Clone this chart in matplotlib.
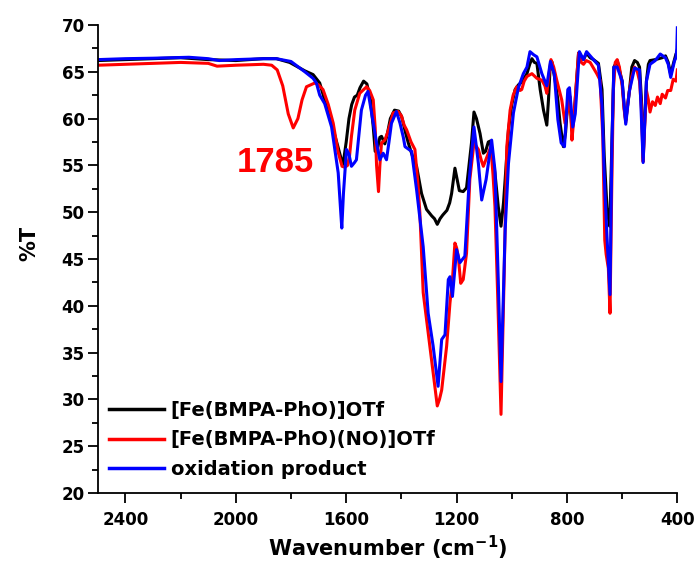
import matplotlib.pyplot as plt
from matplotlib.ticker import MultipleLocator

# IR spectra (wavenumber in cm-1, %T)
black_wn = [2500, 2400, 2300, 2200, 2100, 2000, 1900, 1853, 1805, 1750, 1720, 1696,
            1660, 1630, 1612, 1600, 1590, 1580, 1570, 1560, 1550, 1537, 1525, 1512,
            1502, 1495, 1485, 1478, 1472, 1460, 1450, 1440, 1425, 1410, 1399, 1385,
            1375, 1360, 1345, 1327, 1309, 1290, 1280, 1270, 1260, 1250, 1235, 1225,
            1218, 1206, 1198, 1190, 1176, 1164, 1155, 1146, 1137, 1128, 1115, 1103,
            1095, 1085, 1078, 1068, 1061, 1049, 1039, 1030, 1024, 1012, 1000, 988,
            976, 964, 945, 935, 927, 918, 909, 897, 885, 873, 867, 861, 855, 843,
            833, 825, 813, 805, 800, 792, 787, 782, 776, 770, 758, 750, 740, 729,
            716, 704, 686, 673, 665, 655, 651, 645, 637, 630, 618, 600, 592, 587,
            580, 574, 565, 555, 545, 537, 530, 524, 518, 512, 505, 499, 480, 467,
            455, 443, 433, 424, 415, 405, 400]
black_t = [66.2, 66.3, 66.4, 66.5, 66.3, 66.2, 66.4, 66.4, 66.0, 65.1, 64.7, 63.8,
           60.2, 57.0, 55.0, 57.5, 60.0, 61.5, 62.3, 62.5, 63.3, 64.0, 63.7, 62.0,
           59.1, 56.5, 57.0, 58.0, 58.1, 57.3, 58.5, 60.0, 60.9, 60.8, 60.2, 58.5,
           57.4, 56.0, 54.9, 52.0, 50.3, 49.6, 49.3, 48.7, 49.3, 49.7, 50.2, 51.0,
           52.0, 54.7, 53.5, 52.3, 52.2, 52.6, 55.0, 57.4, 60.7, 60.0, 58.4, 56.3,
           56.5, 57.5, 57.6, 55.5, 54.2, 50.6, 48.5, 51.0, 53.5, 58.8, 61.5, 63.1,
           63.6, 63.9, 64.8, 65.8, 66.4, 66.0, 65.9, 63.1, 60.9, 59.3, 62.0, 65.5,
           66.1, 64.1, 62.0, 59.5, 57.0, 58.5, 60.6, 63.1, 61.0, 58.8, 60.0, 62.0,
           67.0, 66.6, 66.3, 67.0, 66.5, 66.3, 65.9, 63.1, 56.0, 50.5, 49.6, 48.5,
           57.4, 65.5, 66.2, 64.0, 61.0, 59.8, 61.5, 62.9, 65.5, 66.2, 66.0, 65.5,
           62.0, 55.8, 60.0, 64.0, 65.8, 66.2, 66.3, 66.4, 66.5, 66.7, 66.0, 64.7,
           65.8, 66.9, 66.8]

red_wn = [2500, 2400, 2300, 2200, 2100, 2068, 2000, 1900, 1870, 1850, 1830, 1810,
          1792, 1775, 1760, 1744, 1714, 1700, 1684, 1665, 1647, 1630, 1615, 1605,
          1595, 1588, 1581, 1569, 1551, 1526, 1515, 1502, 1495, 1490, 1483, 1478,
          1472, 1460, 1450, 1440, 1430, 1412, 1400, 1390, 1381, 1365, 1351, 1340,
          1333, 1321, 1303, 1285, 1270, 1262, 1254, 1236, 1224, 1215, 1206, 1200,
          1194, 1185, 1176, 1164, 1152, 1137, 1121, 1110, 1103, 1089, 1076, 1068,
          1061, 1051, 1039, 1028, 1018, 1006, 995, 982, 970, 964, 955, 945, 927,
          909, 891, 880, 873, 866, 858, 848, 837, 819, 807, 797, 788, 782, 775,
          768, 758, 748, 740, 730, 716, 700, 692, 680, 670, 663, 658, 650, 644,
          638, 632, 625, 618, 610, 600, 593, 587, 580, 574, 565, 555, 545, 537,
          530, 524, 518, 512, 505, 499, 490, 480, 472, 462, 455, 443, 435, 424,
          415, 405, 400]
red_t = [65.7, 65.8, 65.9, 66.0, 65.9, 65.6, 65.7, 65.8, 65.7, 65.2, 63.5, 60.5,
         59.0, 60.0, 62.0, 63.4, 63.8, 63.6, 63.1, 61.5, 59.5, 56.5, 54.9, 54.8,
         55.0, 56.0, 58.1, 60.9, 62.7, 63.4, 63.0, 62.0, 59.0, 55.0, 52.2, 55.0,
         57.4, 57.7, 58.5, 59.5, 60.6, 60.75, 60.3, 59.3, 58.8, 57.5, 56.7, 53.0,
         49.9, 41.4, 37.1, 32.8, 29.3, 30.0, 31.0, 35.7, 40.3, 42.8, 46.7, 46.2,
         45.3, 42.4, 42.8, 45.6, 53.5, 57.4, 56.7, 55.5, 54.9, 56.0, 57.0, 54.0,
         50.6, 41.0, 28.4, 42.8, 57.0, 60.9, 62.5, 63.4, 63.0, 63.1, 64.0, 64.5, 64.8,
         64.3, 64.1, 63.5, 62.7, 64.5, 66.3, 65.5, 64.1, 62.0, 59.5, 61.0, 62.3, 57.7, 60.0,
         63.0, 67.0, 66.0, 65.8, 66.2, 66.0, 65.2, 64.8, 64.1, 58.0, 47.0, 45.5, 44.0, 39.2,
         52.0, 63.0, 66.0, 66.3, 65.5, 63.5, 61.0, 59.6, 61.5, 62.9, 64.5, 65.5, 65.0, 64.0,
         61.0, 55.4, 59.5, 63.0, 62.0, 60.7, 61.8, 61.4, 62.3, 61.6, 62.6, 62.2, 63.0, 63.0,
         64.2, 64.0, 65.2]

blue_wn = [2500, 2400, 2300, 2170, 2100, 2060, 2000, 1900, 1853, 1800, 1750, 1720,
           1708, 1696, 1678, 1653, 1629, 1622, 1616, 1610, 1599, 1590, 1581, 1570,
           1563, 1545, 1530, 1521, 1508, 1490, 1478, 1466, 1454, 1445, 1436, 1418,
           1405, 1393, 1387, 1363, 1345, 1321, 1303, 1285, 1267, 1254, 1242, 1230,
           1224, 1215, 1200, 1188, 1170, 1154, 1137, 1121, 1109, 1093, 1073, 1061,
           1049, 1039, 1024, 1012, 994, 976, 958, 945, 934, 920, 909, 891, 873, 860,
           846, 833, 821, 809, 797, 791, 779, 770, 755, 740, 729, 704, 686, 673, 665,
           655, 644, 637, 630, 618, 600, 587, 574, 555, 537, 524, 512, 499, 480, 462,
           443, 433, 424, 410, 405, 402, 400]
blue_t = [66.3, 66.4, 66.45, 66.55, 66.4, 66.2, 66.3, 66.4, 66.4, 66.1, 65.0, 64.3,
          63.8, 62.5, 61.6, 59.1, 54.2, 51.0, 48.3, 52.0, 56.7, 56.2, 54.9, 55.3,
          55.6, 60.9, 62.5, 62.9, 60.6, 57.4, 55.6, 56.3, 55.6, 57.5, 59.5, 60.75,
          59.5, 58.0, 57.0, 56.5, 52.4, 46.3, 39.2, 35.7, 31.4, 36.4, 36.9, 42.8,
          43.1, 41.0, 46.0, 44.6, 45.3, 53.5, 59.1, 55.2, 51.3, 53.5, 57.7, 54.5,
          42.8, 31.9, 48.1, 55.2, 60.6, 63.3, 64.8, 65.5, 67.15, 66.8, 66.6, 64.8, 63.5, 66.1,
          64.8, 59.9, 57.4, 57.0, 63.1, 63.3, 59.1, 60.5, 67.15, 66.3, 67.15, 66.3, 65.7, 61.4, 54.0,
          47.4, 41.2, 57.4, 65.5, 65.5, 64.0, 59.4, 62.9, 65.4, 65.2, 55.3, 64.0, 65.8, 66.2, 66.9,
          66.5, 65.8, 64.4, 66.2, 66.5, 67.5, 69.7]

labels = ["[Fe(BMPA-PhO)]OTf", "[Fe(BMPA-PhO)(NO)]OTf", "oxidation product"]
colors = ["black", "#ff0000", "#0000ff"]

plt.rcParams['font.family'] = 'DejaVu Sans'
plt.rcParams['font.weight'] = 'bold'

fig = plt.figure(figsize=(6.94, 5.69), dpi=100)
ax = fig.add_axes([0.141, 0.1336, 0.835, 0.8225])

ax.plot(black_wn, black_t, color=colors[0], lw=2.2, label=labels[0])
ax.plot(red_wn, red_t, color=colors[1], lw=2.2, label=labels[1])
ax.plot(blue_wn, blue_t, color=colors[2], lw=2.2, label=labels[2])

ax.set_xlim(2500, 400)
ax.set_ylim(20, 70)
ax.xaxis.set_major_locator(MultipleLocator(400))
ax.xaxis.set_minor_locator(MultipleLocator(200))
ax.yaxis.set_major_locator(MultipleLocator(5))
ax.yaxis.set_minor_locator(MultipleLocator(2.5))

for side in ['top', 'right']:
    ax.spines[side].set_visible(False)
for side in ['left', 'bottom']:
    ax.spines[side].set_linewidth(1.3)

ax.tick_params(which='major', direction='out', length=7, width=1.3, labelsize=12)
ax.tick_params(which='minor', direction='out', length=4, width=1.3)
ax.tick_params(axis='x', which='major', pad=6)
ax.tick_params(axis='y', which='major', pad=2.5)
for lab in ax.get_xticklabels() + ax.get_yticklabels():
    lab.set_fontweight('bold')

fig.text(0.559, 0.022, r"Wavenumber (cm$^{\mathbf{-1}}$)", ha='center', va='baseline',
         fontsize=15, fontweight='bold')
fig.text(0.043, 0.573, "%T", rotation=90, ha='center', va='center',
         fontsize=15, fontweight='bold')

ax.text(1997, 54.3, "1785", color='#ff0000', fontsize=25, fontweight='bold',
        family='Liberation Sans', ha='left', va='baseline')

leg = ax.legend(loc='upper left', bbox_to_anchor=(0.02, 0.197), frameon=False,
                fontsize=14, handlelength=2.8, handletextpad=0.35,
                labelspacing=0.55, borderpad=0, borderaxespad=0)
for line in leg.get_lines():
    line.set_linewidth(2.5)

fig.savefig("out.png", dpi=100)
